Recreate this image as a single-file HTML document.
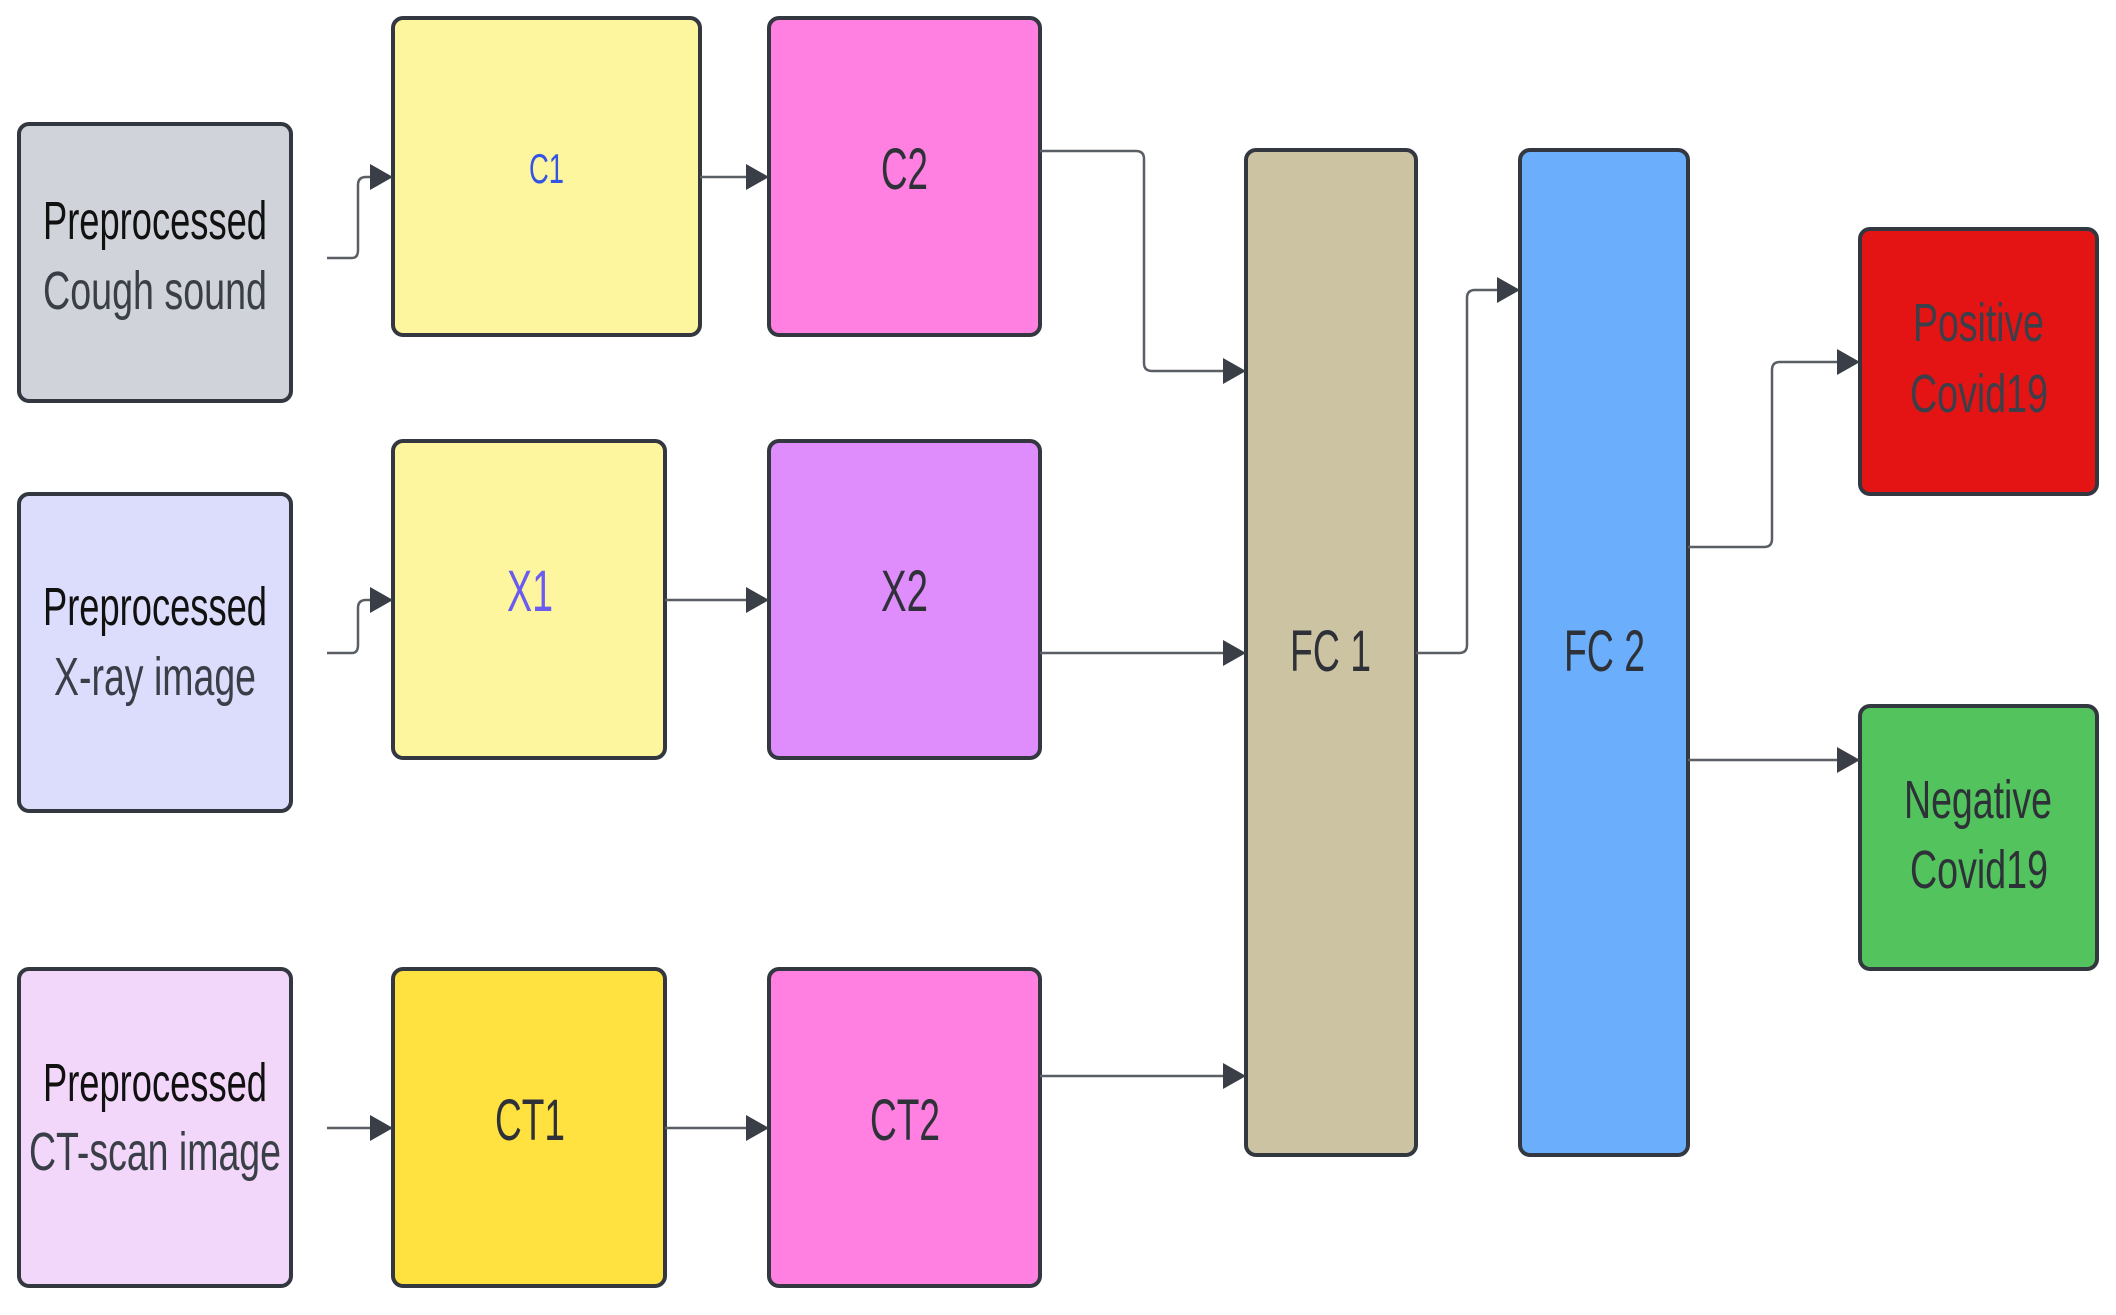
<!DOCTYPE html>
<html><head><style>html,body{margin:0;padding:0;background:#fff}svg{display:block}</style></head>
<body>
<svg width="2116" height="1315" viewBox="0 0 2116 1315" xmlns="http://www.w3.org/2000/svg" font-family="Liberation Sans, sans-serif">
<defs>
<marker id="a" markerWidth="10" markerHeight="10" refX="9" refY="5" orient="auto" markerUnits="userSpaceOnUse" viewBox="0 0 10 10"><path d="M0,0 L10,5 L0,10 z" fill="#3a3f47"/></marker>
</defs>
<g stroke="#333840" stroke-width="4">
<rect x="19" y="124" width="272" height="277" rx="10" fill="#d0d4da"/>
<rect x="19" y="494" width="272" height="317" rx="10" fill="#dcdcfc"/>
<rect x="19" y="969" width="272" height="317" rx="10" fill="#f2d7fb"/>
<rect x="393" y="18" width="307" height="317" rx="10" fill="#fef59f"/>
<rect x="769" y="18" width="271" height="317" rx="10" fill="#ff80e0"/>
<rect x="393" y="441" width="272" height="317" rx="10" fill="#fef59f"/>
<rect x="769" y="441" width="271" height="317" rx="10" fill="#df8cfc"/>
<rect x="393" y="969" width="272" height="317" rx="10" fill="#ffe13f"/>
<rect x="769" y="969" width="271" height="317" rx="10" fill="#ff80e0"/>
<rect x="1246" y="150" width="170" height="1005" rx="10" fill="#ccc3a3"/>
<rect x="1520" y="150" width="168" height="1005" rx="10" fill="#6aaefc"/>
<rect x="1860" y="229" width="237" height="265" rx="10" fill="#e51414"/>
<rect x="1860" y="706" width="237" height="263" rx="10" fill="#53c35d"/>
</g>
<g stroke="#5a5f66" stroke-width="2.5" fill="none">
<path d="M327,258 H352 Q358,258 358,250 V185 Q358,177 366,177 H378"/>
<path d="M327,653 H352 Q358,653 358,645 V608 Q358,600 366,600 H378"/>
<path d="M327,1128 H378"/>
<path d="M700,177 H754"/>
<path d="M665,600 H754"/>
<path d="M665,1128 H754"/>
<path d="M1040,151 H1136 Q1144,151 1144,159 V363 Q1144,371 1152,371 H1231"/>
<path d="M1040,653 H1231"/>
<path d="M1040,1076 H1231"/>
<path d="M1416,653 H1459 Q1467,653 1467,645 V298 Q1467,290 1475,290 H1505"/>
<path d="M1688,547 H1764 Q1772,547 1772,539 V370 Q1772,362 1780,362 H1845"/>
<path d="M1688,760 H1845"/>
</g>
<g fill="#3a3f47">
<path d="M370,164 L393,177 L370,190 z"/>
<path d="M370,587 L393,600 L370,613 z"/>
<path d="M370,1115 L393,1128 L370,1141 z"/>
<path d="M746,164 L769,177 L746,190 z"/>
<path d="M746,587 L769,600 L746,613 z"/>
<path d="M746,1115 L769,1128 L746,1141 z"/>
<path d="M1223,358 L1246,371 L1223,384 z"/>
<path d="M1223,640 L1246,653 L1223,666 z"/>
<path d="M1223,1063 L1246,1076 L1223,1089 z"/>
<path d="M1497,277 L1520,290 L1497,303 z"/>
<path d="M1837,349 L1860,362 L1837,375 z"/>
<path d="M1837,747 L1860,760 L1837,773 z"/>
</g>
<g font-size="54" fill="#2e3238" lengthAdjust="spacingAndGlyphs">
<text x="43" y="239" textLength="224" lengthAdjust="spacingAndGlyphs" fill="#111">Preprocessed</text>
<text x="43" y="309" textLength="224" lengthAdjust="spacingAndGlyphs" fill="#3a3f47">Cough sound</text>
<text x="43" y="625" textLength="224" lengthAdjust="spacingAndGlyphs" fill="#111">Preprocessed</text>
<text x="54" y="695" textLength="202" lengthAdjust="spacingAndGlyphs" fill="#3a3f47">X-ray image</text>
<text x="43" y="1101" textLength="224" lengthAdjust="spacingAndGlyphs" fill="#111">Preprocessed</text>
<text x="29" y="1170" textLength="252" lengthAdjust="spacingAndGlyphs" fill="#3a3f47">CT-scan image</text>
<text x="529" y="183" textLength="35" lengthAdjust="spacingAndGlyphs" font-size="42" fill="#3355e6">C1</text>
<text x="881" y="189" textLength="47" lengthAdjust="spacingAndGlyphs" font-size="58">C2</text>
<text x="507" y="611" textLength="46" lengthAdjust="spacingAndGlyphs" font-size="58" fill="#6a5cf0">X1</text>
<text x="881" y="611" textLength="47" lengthAdjust="spacingAndGlyphs" font-size="58">X2</text>
<text x="495" y="1140" textLength="70" lengthAdjust="spacingAndGlyphs" font-size="58">CT1</text>
<text x="870" y="1140" textLength="70" lengthAdjust="spacingAndGlyphs" font-size="58">CT2</text>
<text x="1290" y="671" textLength="81" lengthAdjust="spacingAndGlyphs" font-size="58">FC 1</text>
<text x="1564" y="671" textLength="81" lengthAdjust="spacingAndGlyphs" font-size="58">FC 2</text>
<text x="1913" y="341" textLength="131" lengthAdjust="spacingAndGlyphs" fill="#3a3f4a">Positive</text>
<text x="1910" y="412" textLength="138" lengthAdjust="spacingAndGlyphs" fill="#3a3f4a">Covid19</text>
<text x="1904" y="818" textLength="148" lengthAdjust="spacingAndGlyphs">Negative</text>
<text x="1910" y="888" textLength="138" lengthAdjust="spacingAndGlyphs">Covid19</text>
</g>
</svg>
</body></html>
